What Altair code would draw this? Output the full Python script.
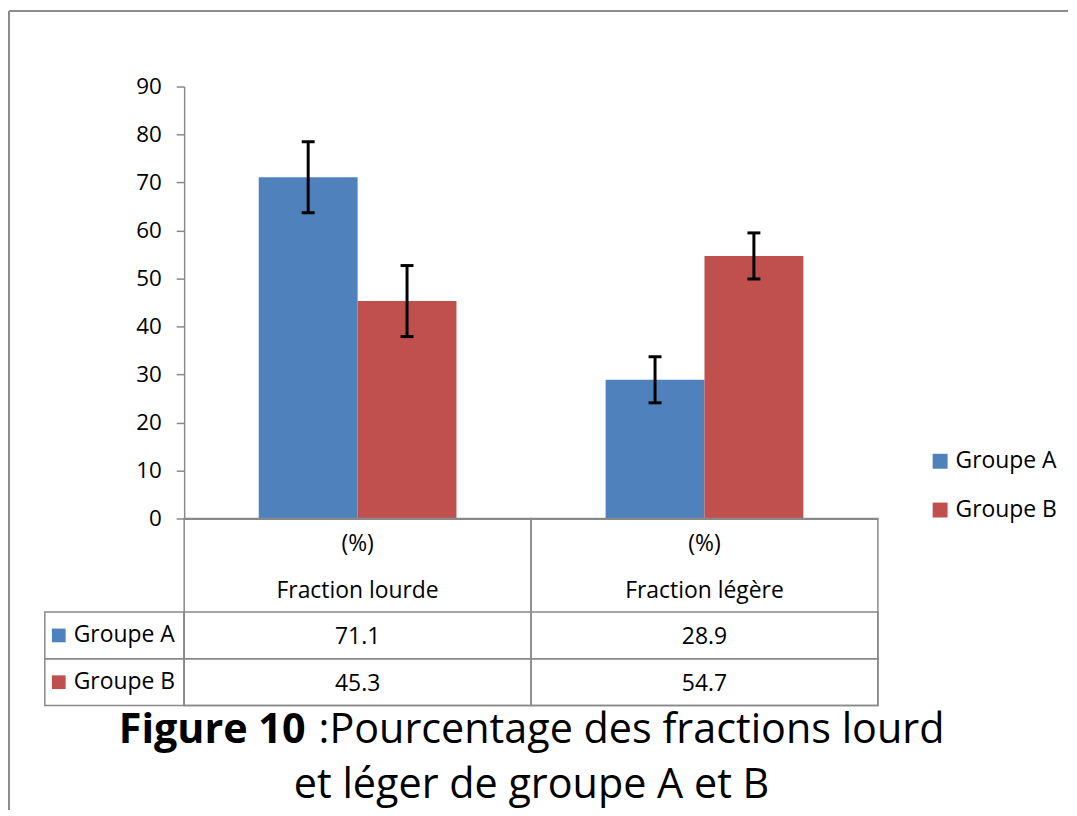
import altair as alt
import pandas as pd

# ---- data ----
categories = ["Fraction lourde", "Fraction légère"]
groups = ["Groupe A", "Groupe B"]
values_a = [71.1, 28.9]
values_b = [45.3, 54.7]
errors_a = [7.4, 4.8]
errors_b = [7.4, 4.8]
unit_labels = ["(%)", "(%)"]
y_ticks = [0, 10, 20, 30, 40, 50, 60, 70, 80, 90]
colors = ["#4F81BD", "#C0504D"]
row_keys = ["unit", "name", "Groupe A", "Groupe B"]

FONT = "Open Sans"
GRAY = "#898989"
FS = 23

bar_rows = []
for i, c in enumerate(categories):
    for g, vals, errs in ((groups[0], values_a, errors_a), (groups[1], values_b, errors_b)):
        bar_rows.append({"category": c, "group": g, "value": vals[i],
                         "lo": vals[i] - errs[i], "hi": vals[i] + errs[i]})
bars_df = pd.DataFrame(bar_rows)

table_rows = []
for i, c in enumerate(categories):
    table_rows.append({"category": c, "row": "unit", "label": unit_labels[i]})
    table_rows.append({"category": c, "row": "name", "label": c})
    table_rows.append({"category": c, "row": groups[0], "label": f"{values_a[i]:.1f}"})
    table_rows.append({"category": c, "row": groups[1], "label": f"{values_b[i]:.1f}"})
table_df = pd.DataFrame(table_rows)
group_df = pd.DataFrame({"group": groups, "row": groups})

color_enc = alt.Color(
    "group:N",
    scale=alt.Scale(domain=groups, range=colors),
    legend=alt.Legend(title=None, orient="none", legendX=888, legendY=365,
                      symbolType="square", symbolSize=225, symbolStrokeWidth=0,
                      symbolOpacity=1, labelFontSize=FS, labelFont=FONT,
                      labelColor="#000000", labelOffset=4, rowPadding=25, padding=0),
)

# ---- bar chart with error bars ----
xb = alt.X("category:N", sort=categories,
           scale=alt.Scale(domain=categories, paddingInner=0.43, paddingOuter=0.215),
           axis=alt.Axis(title=None, labels=False, ticks=False,
                         domainColor=GRAY, domainWidth=2))
xo = alt.XOffset("group:N", scale=alt.Scale(domain=groups, paddingInner=0, paddingOuter=0))
yscale = alt.Scale(domain=[0, 90], nice=False)

base = alt.Chart(bars_df)
bars = base.mark_bar().encode(
    x=xb, xOffset=xo,
    y=alt.Y("value:Q", scale=yscale,
            axis=alt.Axis(title=None, values=y_ticks, grid=False, tickSize=8,
                          tickColor=GRAY, tickWidth=1.5, domainColor=GRAY, domainWidth=1.5,
                          labelFontSize=FS - 0.5, labelFont=FONT, labelColor="#000000",
                          labelPadding=15)),
    color=color_enc,
)
err = base.mark_rule(color="black", strokeWidth=3).encode(
    x=alt.X("category:N", sort=categories), xOffset=xo,
    y=alt.Y("lo:Q", scale=yscale), y2="hi:Q")
cap_lo = base.mark_tick(color="black", thickness=3, size=13, opacity=1).encode(
    x=alt.X("category:N", sort=categories), xOffset=xo, y=alt.Y("lo:Q", scale=yscale))
cap_hi = base.mark_tick(color="black", thickness=3, size=13, opacity=1).encode(
    x=alt.X("category:N", sort=categories), xOffset=xo, y=alt.Y("hi:Q", scale=yscale))
bar_chart = alt.layer(bars, err, cap_lo, cap_hi).properties(width=697, height=434)

# ---- data table under the plot ----
xt = alt.X("category:N", sort=categories,
           scale=alt.Scale(domain=categories, paddingInner=0, paddingOuter=0), axis=None)
yt = alt.Y("row:N", sort=row_keys,
           scale=alt.Scale(domain=row_keys, paddingInner=0, paddingOuter=0), axis=None)

col_cells = alt.Chart(pd.DataFrame({"category": categories})).mark_rect(
    fillOpacity=0, stroke=GRAY, strokeWidth=1.5).encode(x=xt)
row_cells = alt.Chart(group_df).mark_rect(
    fillOpacity=0, stroke=GRAY, strokeWidth=1.5).encode(y=yt)
cell_text = alt.Chart(table_df).mark_text(
    fontSize=FS, font=FONT, color="#000000", dy=2).encode(x=xt, y=yt, text="label:N")
table_chart = alt.layer(col_cells, row_cells, cell_text).properties(width=697, height=188)

# ---- row labels of the table (series keys) ----
lab_cells = alt.Chart(group_df).mark_rect(
    fillOpacity=0, stroke=GRAY, strokeWidth=1.5).encode(y=yt)
lab_swatch = alt.Chart(group_df).mark_square(size=190, opacity=1).encode(
    y=yt, x=alt.value(14), color=color_enc)
lab_text = alt.Chart(group_df).mark_text(
    fontSize=FS, font=FONT, color="#000000", align="left", dy=0).encode(
    y=yt, x=alt.value(29), text="group:N")
label_chart = alt.layer(lab_cells, lab_swatch, lab_text).properties(width=140, height=188)

# ---- outer frame (top-left cell) ----
frame_df = pd.DataFrame({"k": [0]})
frame_left = alt.Chart(frame_df).mark_rule(color="#8c8c8c", strokeWidth=2).encode(
    x=alt.value(-36), y=alt.value(-76), y2=alt.value(727))
frame_top = alt.Chart(frame_df).mark_rule(color="#8c8c8c", strokeWidth=2).encode(
    x=alt.value(-36), x2=alt.value(1028), y=alt.value(-76))
spacer = alt.layer(frame_left, frame_top).properties(width=140, height=434)

# ---- figure caption ----
cap_df = pd.DataFrame({"bold": ["Figure 10"], "rest": [":Pourcentage des fractions lourd"],
                       "line2": ["et léger de groupe A et B"]})
cap_bold = alt.Chart(cap_df).mark_text(
    fontSize=41.5, font=FONT, fontWeight="bold", align="right", baseline="alphabetic",
    color="#000000").encode(x=alt.value(262), y=alt.value(38), text="bold:N")
cap_rest = alt.Chart(cap_df).mark_text(
    fontSize=41.5, font=FONT, align="left", baseline="alphabetic", dx=13,
    color="#000000").encode(x=alt.value(262), y=alt.value(38), text="rest:N")
cap_line2 = alt.Chart(cap_df).mark_text(
    fontSize=41.5, font=FONT, align="center", baseline="alphabetic",
    color="#000000").encode(x=alt.value(489), y=alt.value(93), text="line2:N")
caption = alt.layer(cap_bold, cap_rest, cap_line2).properties(width=140, height=98)

chart = alt.concat(
    spacer, bar_chart, label_chart, table_chart, caption,
    columns=2, spacing=0, bounds="flush",
).resolve_scale(
    x="independent", y="independent", color="shared"
).properties(
    padding=0
).configure(font=FONT).configure_view(stroke=None)

chart.save("out.html", embed_options={"renderer": "svg", "actions": False})
